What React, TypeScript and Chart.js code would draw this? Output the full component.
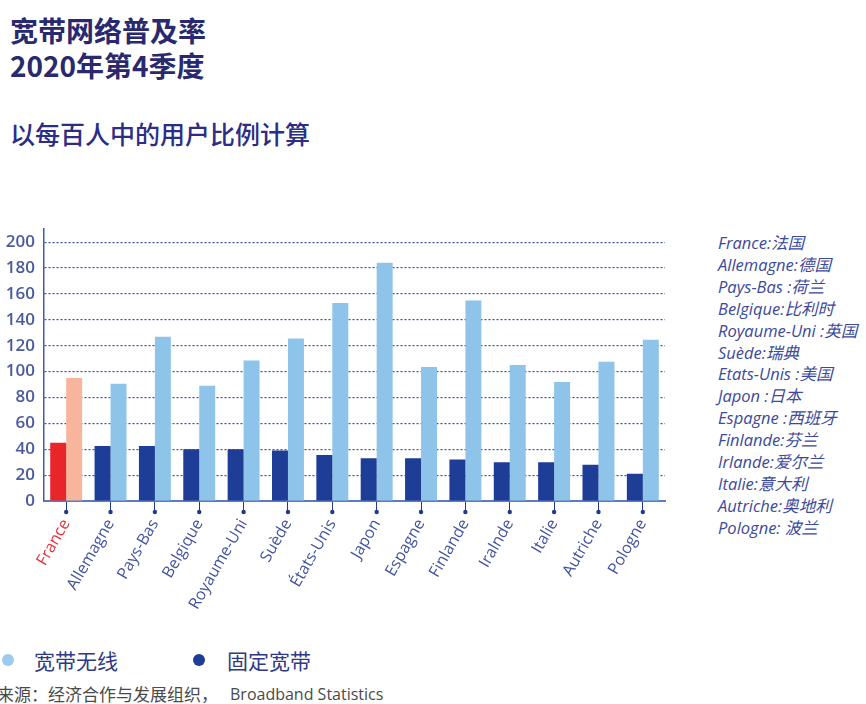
import React, { useEffect, useRef } from "react";
import { Chart, registerables } from "chart.js";

Chart.register(...registerables);

const categories = [
  "France", "Allemagne", "Pays-Bas", "Belgique", "Royaume-Uni", "Suède", "États-Unis",
  "Japon", "Espagne", "Finlande", "Iralnde", "Italie", "Autriche", "Pologne",
];
const fixedBroadband = [45, 42.5, 42.5, 40, 40, 39, 35.5, 33, 33, 32, 30, 30, 28, 21];
const wirelessBroadband = [95, 90.5, 127, 89, 108.5, 125.5, 153, 184, 103.5, 155, 105, 92, 107.5, 124.5];
const yTickValues = [0, 20, 40, 60, 80, 100, 120, 140, 160, 180, 200];
const countryNotes = [
  "France:法国", "Allemagne:德国", "Pays-Bas :荷兰", "Belgique:比利时", "Royaume-Uni :英国",
  "Suède:瑞典", "Etats-Unis :美国", "Japon :日本", "Espagne :西班牙", "Finlande:芬兰",
  "Irlande:爱尔兰", "Italie:意大利", "Autriche:奥地利", "Pologne: 波兰",
];

const NAVY = "#3a4fa6";
const CJK = '"Noto Sans CJK SC", "Noto Sans", sans-serif';
const LATIN = '"Open Sans", "Noto Sans CJK SC", sans-serif';

const tickDots = {
  id: "tickDots",
  afterDraw(chart: any) {
    const xs = chart.scales.x;
    const ctx = chart.ctx;
    ctx.save();
    ctx.fillStyle = "#1f3a8f";
    for (let i = 0; i < xs.ticks.length; i++) {
      const x = xs.getPixelForTick(i);
      ctx.beginPath();
      ctx.arc(x, xs.top + 11, 2.2, 0, Math.PI * 2);
      ctx.fill();
    }
    ctx.restore();
  },
};

function BarChart() {
  const ref = useRef<HTMLCanvasElement>(null);
  useEffect(() => {
    if (!ref.current) return;
    const chart = new Chart(ref.current, {
      type: "bar",
      data: {
        labels: categories,
        datasets: [
          {
            label: "固定宽带",
            data: fixedBroadband,
            backgroundColor: categories.map((_, i) => (i === 0 ? "#e8262a" : "#1d3d96")),
            categoryPercentage: 0.72,
            barPercentage: 1,
          },
          {
            label: "宽带无线",
            data: wirelessBroadband,
            backgroundColor: categories.map((_, i) => (i === 0 ? "#f7b59c" : "#8ec4ea")),
            categoryPercentage: 0.72,
            barPercentage: 1,
          },
        ],
      },
      options: {
        animation: false,
        responsive: false,
        maintainAspectRatio: false,
        layout: { padding: { left: 0, right: 35, top: 14, bottom: 0 } },
        plugins: { legend: { display: false }, tooltip: { enabled: false } },
        scales: {
          x: {
            offset: true,
            afterFit: (s: any) => { s.height = 129; },
            grid: {
              display: true,
              offset: false,
              drawOnChartArea: false,
              drawTicks: true,
              tickLength: 11,
              color: "#1f3a8f",
              lineWidth: 1,
            },
            border: { display: true, color: "#5b7cc4", width: 2 },
            ticks: {
              autoSkip: false,
              maxRotation: 60,
              minRotation: 60,
              padding: 4,
              font: { family: LATIN, size: 16 },
              color: (c: any) => (c.index === 0 ? "#e8313a" : "#43529f"),
            },
          },
          y: {
            min: 0,
            max: 210,
            afterFit: (s: any) => { s.width = 44; },
            afterBuildTicks: (s: any) => {
              s.ticks = yTickValues.map((v) => ({ value: v }));
            },
            grid: { color: NAVY, lineWidth: 1.2, drawTicks: false },
            border: { display: true, color: "#3f5cb0", width: 1.5, dash: [2, 2] },
            ticks: {
              padding: 9,
              font: { family: LATIN, size: 17, weight: "600" },
              color: "#4a5a9e",
            },
          },
        },
      },
      plugins: [tickDots],
    } as any);
    return () => chart.destroy();
  }, []);
  return (
    <canvas
      ref={ref}
      width={700}
      height={420}
      style={{ position: "absolute", left: 0, top: 210, width: 700, height: 420 }}
    />
  );
}

export default function App() {
  return (
    <div
      style={{
        position: "fixed",
        left: 0,
        top: 0,
        width: 866,
        height: 704,
        background: "#fff",
        overflow: "hidden",
      }}
    >
      <div
        style={{
          position: "absolute",
          left: 10,
          top: 13,
          fontFamily: CJK,
          fontWeight: 700,
          fontSize: 28,
          lineHeight: "35px",
          color: "#28296e",
          whiteSpace: "nowrap",
        }}
      >
        <div>宽带网络普及率</div>
        <div>2020年第4季度</div>
      </div>
      <div
        style={{
          position: "absolute",
          left: 10,
          top: 118,
          fontFamily: CJK,
          fontWeight: 500,
          fontSize: 25,
          lineHeight: "30px",
          color: "#2b2d86",
          whiteSpace: "nowrap",
        }}
      >
        以每百人中的用户比例计算
      </div>
      <BarChart />
      <div
        style={{
          position: "absolute",
          left: 718,
          top: 232,
          fontFamily: LATIN,
          fontStyle: "italic",
          fontSize: 16.5,
          lineHeight: "21.9px",
          color: "#3b4a9c",
          whiteSpace: "nowrap",
        }}
      >
        {countryNotes.map((t) => (
          <div key={t}>{t}</div>
        ))}
      </div>
      <div style={{ position: "absolute", left: 2, top: 654, width: 12, height: 12, borderRadius: 6, background: "#9ccbef" }} />
      <div
        style={{ position: "absolute", left: 34, top: 646, fontFamily: CJK, fontSize: 21, lineHeight: "28px", color: "#2e3a85", whiteSpace: "nowrap" }}
      >
        宽带无线
      </div>
      <div style={{ position: "absolute", left: 193, top: 654, width: 12, height: 12, borderRadius: 6, background: "#1d3d96" }} />
      <div
        style={{ position: "absolute", left: 227, top: 646, fontFamily: CJK, fontSize: 21, lineHeight: "28px", color: "#2e3a85", whiteSpace: "nowrap" }}
      >
        固定宽带
      </div>
      <div
        style={{ position: "absolute", left: -3, top: 682, fontFamily: CJK, fontSize: 17, lineHeight: "24px", color: "#4a4a4a", whiteSpace: "nowrap" }}
      >
        来源：经济合作与发展组织，
      </div>
      <div
        style={{ position: "absolute", left: 230, top: 682, fontFamily: '"Open Sans", sans-serif', fontSize: 16, lineHeight: "24px", color: "#4a4a4a", whiteSpace: "nowrap" }}
      >
        Broadband Statistics
      </div>
    </div>
  );
}
